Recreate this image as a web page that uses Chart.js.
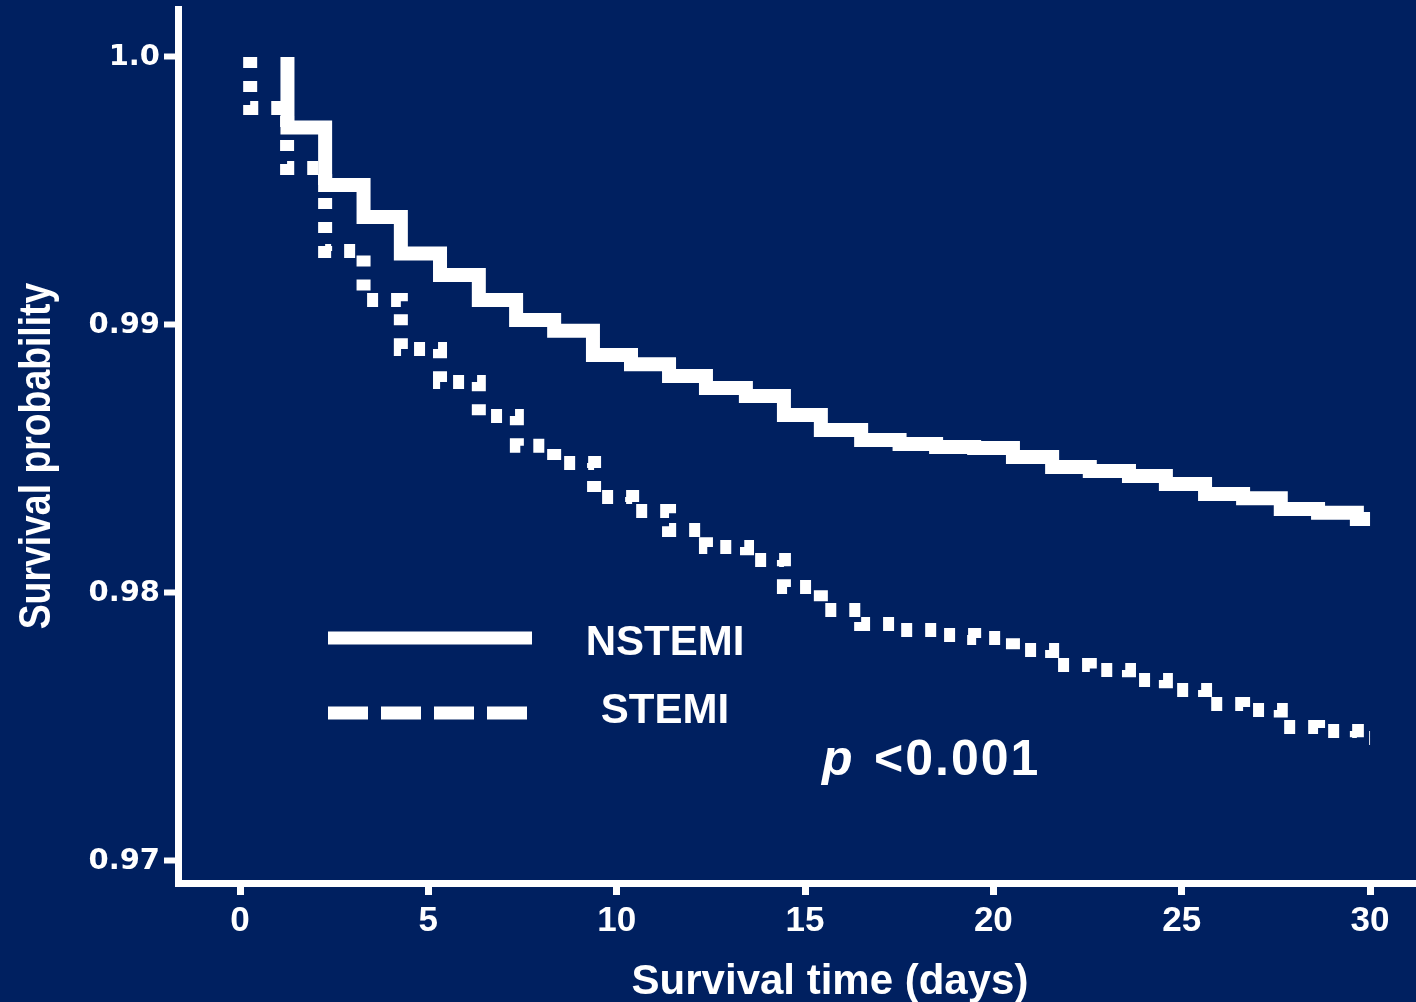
<!DOCTYPE html>
<html>
<head>
<meta charset="utf-8">
<title>Survival probability</title>
<script src="https://cdn.jsdelivr.net/npm/chart.js@4.4.1/dist/chart.umd.min.js"></script>
<style>
  html, body { margin: 0; padding: 0; background: #002060; }
  #wrap { width: 1416px; height: 1002px; }
</style>
</head>
<body>
<div id="wrap"><canvas id="survival-chart" width="1416" height="1002"></canvas></div>
<script>
// axis ticks
const xTicks = [0, 5, 10, 15, 20, 25, 30];
const yTicks = [0.97, 0.98, 0.99, 1.0];
const yTickLabels = ['0.97', '0.98', '0.99', '1.0'];

// Kaplan-Meier steps: day of the drop and survival after it
const nstemiDays = [1.26, 2.26, 3.28, 4.27, 5.31, 6.34, 7.33, 8.34, 9.37, 10.38, 11.39, 12.37, 13.43, 14.44, 15.42,
  16.49, 17.51, 18.48, 19.49, 20.52, 21.56, 22.56, 23.60, 24.58, 25.62, 26.63, 27.63, 28.62, 29.65];
const nstemiSurv = [0.99737, 0.99522, 0.99403, 0.99267, 0.99187, 0.99093, 0.99019, 0.98979, 0.98888, 0.98854,
  0.98810, 0.98765, 0.98735, 0.98664, 0.98608, 0.98571, 0.98556, 0.98545, 0.98541, 0.98507,
  0.98470, 0.98455, 0.98437, 0.98407, 0.98369, 0.98354, 0.98313, 0.98299, 0.98276];

const stemiDays = [0.27, 1.25, 2.26, 3.28, 4.27, 5.31, 6.34, 7.35, 8.34, 9.40, 10.41, 11.39, 12.37, 13.46, 14.44,
  15.42, 16.49, 17.51, 18.50, 19.49, 20.52, 21.56, 22.56, 23.60, 24.58, 25.62, 26.63, 27.63, 28.62, 29.65];
const stemiSurv = [0.99810, 0.99586, 0.99276, 0.99093, 0.98910, 0.98787, 0.98660, 0.98549, 0.98485, 0.98358,
  0.98306, 0.98235, 0.98172, 0.98123, 0.98022, 0.97937, 0.97884, 0.97862, 0.97843, 0.97832,
  0.97787, 0.97731, 0.97713, 0.97675, 0.97638, 0.97586, 0.97563, 0.97500, 0.97485, 0.97459];

const followUpEnd = 30;
const pValueText = '<0.001';

// curve starts at 1.0 on the first event day and runs flat to the end of follow-up
function kmPoints(days, surv) {
  var pts = [{x: days[0], y: 1}];
  days.forEach(function(d, i) {
    pts.push({x: d, y: surv[i]});
  });
  pts.push({x: followUpEnd, y: surv[surv.length - 1]});
  return pts;
}

// legend, axis titles and p value drawn on top of the plot
const legendDash = [[], [40, 13]];
const legendRowY = [638, 713];
const legendLabelY = [655, 723];

const overlayText = {
  id: 'overlayText',
  afterDraw: function(chart) {
    var c = chart.ctx;
    c.save();
    c.fillStyle = '#fff';

    c.font = 'bold 42px "Liberation Sans"';
    c.textAlign = 'center';
    c.textBaseline = 'alphabetic';
    c.fillText('Survival time (days)', 830, 994);

    // y title is set tall and narrow
    c.save();
    c.translate(50, 456);
    c.rotate(-Math.PI / 2);
    c.scale(0.83, 1);
    c.font = 'bold 45px "Liberation Sans"';
    c.fillText('Survival probability', 0, 0);
    c.restore();

    chart.data.datasets.forEach(function(ds, i) {
      c.strokeStyle = ds.borderColor;
      c.lineWidth = 13;
      c.lineCap = 'butt';
      c.setLineDash(legendDash[i]);
      c.beginPath();
      c.moveTo(328, legendRowY[i]);
      c.lineTo(532, legendRowY[i]);
      c.stroke();
      c.font = 'bold 42px "Liberation Sans"';
      c.textAlign = 'center';
      c.fillText(ds.label, 665, legendLabelY[i]);
    });

    c.textAlign = 'left';
    c.font = 'italic bold 50px "Liberation Sans"';
    c.fillText('p', 822, 775);
    c.font = 'bold 50px "Liberation Sans"';
    c.letterSpacing = '2px';
    c.fillText(pValueText, 874, 775);
    c.restore();
  }
};

var ctx = document.getElementById('survival-chart');
var survivalChart = new Chart(ctx, {
  type: 'line',
  data: {
    datasets: [
      {
        label: 'NSTEMI',
        data: kmPoints(nstemiDays, nstemiSurv),
        borderColor: '#ffffff',
        borderWidth: 14,
        stepped: 'before',
        pointRadius: 0,
        fill: false
      },
      {
        label: 'STEMI',
        data: kmPoints(stemiDays, stemiSurv),
        borderColor: '#ffffff',
        borderWidth: 14,
        borderDash: [11, 13],
        stepped: 'before',
        pointRadius: 0,
        fill: false
      }
    ]
  },
  options: {
    responsive: false,
    animation: false,
    layout: { padding: { top: 9, left: 0, right: 0, bottom: 0 } },
    plugins: {
      legend: { display: false },
      tooltip: { enabled: false }
    },
    scales: {
      x: {
        type: 'linear',
        bounds: 'data',
        min: -1.646,
        max: 31.22,
        afterFit: function(scale) {
          scale.height = 119;
          scale.paddingLeft = 0;
          scale.paddingRight = 0;
        },
        afterBuildTicks: function(scale) {
          scale.ticks = xTicks.map(function(v) { return {value: v}; });
        },
        grid: { drawOnChartArea: false, drawTicks: true, tickLength: 12, tickWidth: 7, tickColor: '#fff', color: '#fff' },
        border: { display: true, color: '#fff', width: 7 },
        ticks: {
          color: '#fff',
          padding: 5,
          autoSkip: false,
          maxRotation: 0,
          font: { family: 'Liberation Sans', size: 35, weight: 'bold' }
        }
      },
      y: {
        type: 'linear',
        bounds: 'data',
        min: 0.969179,
        max: 1.001791,
        afterFit: function(scale) {
          scale.width = 178;
          scale.paddingTop = 0;
          scale.paddingBottom = 0;
        },
        afterBuildTicks: function(scale) {
          scale.ticks = yTicks.map(function(v) { return {value: v}; });
        },
        grid: { drawOnChartArea: false, drawTicks: true, tickLength: 14, tickWidth: 6, tickColor: '#fff', color: '#fff' },
        border: { display: true, color: '#fff', width: 7 },
        ticks: {
          color: '#fff',
          padding: 4,
          autoSkip: false,
          font: { family: 'DejaVu Sans', size: 29, weight: 'bold' },
          callback: function(value, index) { return yTickLabels[index]; }
        }
      }
    }
  },
  plugins: [overlayText]
});
</script>
</body>
</html>
